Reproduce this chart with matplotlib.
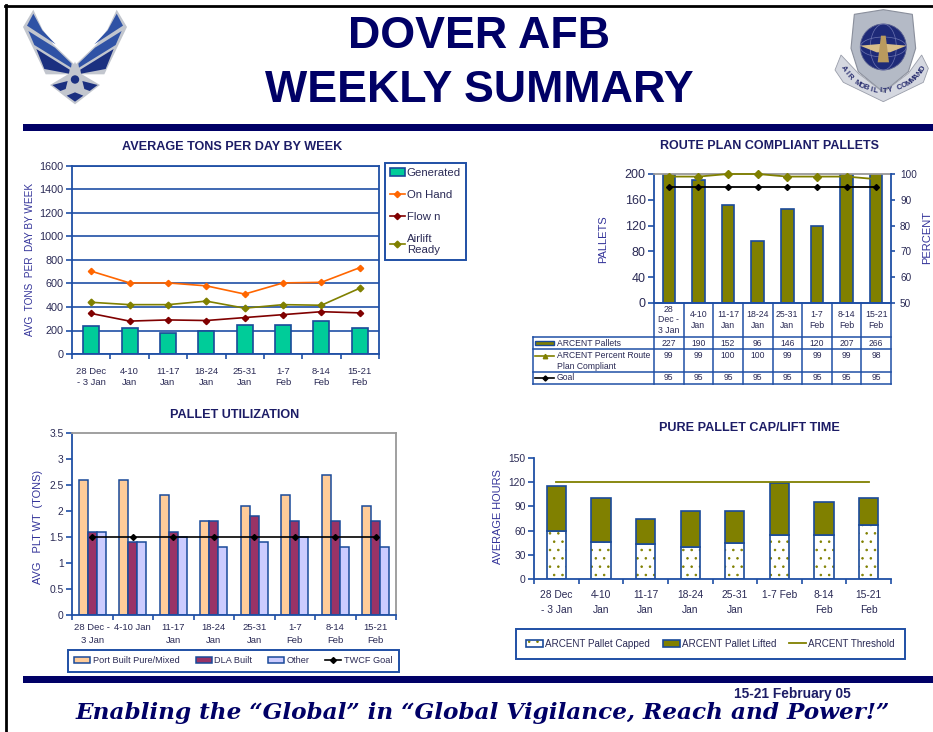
import math
import matplotlib
matplotlib.use("Agg")
import matplotlib.pyplot as plt
from matplotlib.patches import Patch, Polygon, Circle, Ellipse, Rectangle
from matplotlib.legend_handler import HandlerTuple

W, H = 933, 732
plt.rcParams['font.family'] = ['Liberation Sans', 'DejaVu Sans']
plt.rcParams['hatch.linewidth'] = 0.6

# ---- data ----
cats_tons = ['28 Dec\n- 3 Jan', '4-10\nJan', '11-17\nJan', '18-24\nJan', '25-31\nJan', '1-7\nFeb', '8-14\nFeb', '15-21\nFeb']
generated = [240, 225, 180, 200, 250, 250, 285, 225]
on_hand = [705, 605, 605, 580, 510, 605, 610, 735]
flown = [345, 280, 290, 285, 310, 335, 360, 350]
airlift_ready = [440, 420, 420, 450, 390, 420, 415, 560]

cats_route = ['28\nDec -\n3 Jan', '4-10\nJan', '11-17\nJan', '18-24\nJan', '25-31\nJan', '1-7\nFeb', '8-14\nFeb', '15-21\nFeb']
arcent_pallets = [227, 190, 152, 96, 146, 120, 207, 266]
percent_compliant = [99, 99, 100, 100, 99, 99, 99, 98]
route_goal = [95, 95, 95, 95, 95, 95, 95, 95]

cats_util = ['28 Dec -\n3 Jan', '4-10 Jan', '11-17\nJan', '18-24\nJan', '25-31\nJan', '1-7\nFeb', '8-14\nFeb', '15-21\nFeb']
port_built = [2.6, 2.6, 2.3, 1.8, 2.1, 2.3, 2.7, 2.1]
dla_built = [1.6, 1.4, 1.6, 1.8, 1.9, 1.8, 1.8, 1.8]
other_built = [1.6, 1.4, 1.5, 1.3, 1.4, 1.5, 1.3, 1.3]
twcf_goal = [1.5, 1.5, 1.5, 1.5, 1.5, 1.5, 1.5, 1.5]

cats_cap = ['28 Dec\n- 3 Jan', '4-10\nJan', '11-17\nJan', '18-24\nJan', '25-31\nJan', '1-7 Feb', '8-14\nFeb', '15-21\nFeb']
pallet_capped = [60, 46, 43, 40, 45, 55, 55, 67]
pallet_lifted = [55, 55, 32, 44, 39, 64, 40, 34]
arcent_threshold = [120, 120, 120, 120, 120, 120, 120, 120]

# ---- style ----
BLUE = '#1F4FA5'
EDGE = '#1A4A9A'
NAVY = '#000066'
TITLE = '#1C1C66'
TXT = '#2A2A55'
LAB = '#333399'
OLIVE = '#808000'
idx = list(range(8))

fig = plt.figure(figsize=(W / 100, H / 100), dpi=100, facecolor='white')


def make_axes(left, right, top, bottom):
    return fig.add_axes([left / W, 1 - bottom / H, (right - left) / W, (bottom - top) / H])


def style_axes(ax, ymax, yticks, ylabels, xlabels, ysize=7.4, xsize=6.8, xpad=5, xspace=1.45):
    ax.set_xlim(-0.5, 7.5)
    ax.set_ylim(0, ymax)
    ax.set_yticks(yticks, ylabels, fontsize=ysize, color=TXT)
    ax.set_xticks(idx, xlabels, fontsize=xsize, color=TXT, linespacing=xspace)
    ax.set_xticks([i - 0.5 for i in range(9)], minor=True)
    ax.tick_params(axis='x', which='major', length=0, pad=xpad)
    ax.tick_params(axis='x', which='minor', length=3.5, color=BLUE, width=1.2)
    ax.tick_params(axis='y', length=4, color=BLUE, width=1.2, pad=2)
    for s in ax.spines.values():
        s.set_color(BLUE)
        s.set_linewidth(1.3)


def add_legend(handles, labels, x, y, **kw):
    leg = fig.legend(handles, labels, loc='upper left', bbox_to_anchor=(x / W, 1 - y / H),
                     bbox_transform=fig.transFigure, borderaxespad=0, fancybox=False,
                     framealpha=1, edgecolor=BLUE, labelcolor=TXT, **kw)
    leg.get_frame().set_linewidth(1.4)
    return leg


# ---- chart 1 ----
ax1 = make_axes(72, 379, 166, 354)
style_axes(ax1, 1600, range(0, 1601, 200), [str(v) for v in range(0, 1601, 200)], cats_tons, ysize=7.8, xpad=9, xspace=1.3)
ax1.grid(axis='y', color=BLUE, lw=1.2)
ax1.set_axisbelow(True)
ax1.bar(idx, generated, width=0.42, color='#00CC99', edgecolor=EDGE, lw=1.2, zorder=2)
l_hand, = ax1.plot(idx, on_hand, color='#FF6600', marker='D', ms=3.2, lw=1.2, zorder=3)
l_flown, = ax1.plot(idx, flown, color='#800000', marker='D', ms=3.2, lw=1.2, zorder=3)
l_ready, = ax1.plot(idx, airlift_ready, color=OLIVE, marker='D', ms=3.4, lw=1.2, zorder=3)
add_legend([Patch(facecolor='#00CC99', edgecolor=EDGE, lw=1.2), l_hand, l_flown, l_ready],
           ['Generated', 'On Hand', 'Flow n', 'Airlift\nReady'], 385, 163,
           fontsize=8.2, labelspacing=1.05, handlelength=1.3, handletextpad=0.2,
           borderpad=0.42)

# ---- chart 2 ----
ax2 = make_axes(654, 891, 174, 303)
style_axes(ax2, 200, range(0, 201, 40), [str(v) for v in range(0, 201, 40)], [''] * 8, ysize=9)
ax2.spines['top'].set_color('#999999')
ax2.spines['right'].set_visible(False)
ax2.tick_params(axis='x', which='minor', length=0)
ax2.bar(idx, arcent_pallets, width=0.42, color=OLIVE, edgecolor=EDGE, lw=1.2)
ax2b = ax2.twinx()
ax2b.set_xlim(-0.5, 7.5)
ax2b.set_ylim(50, 100)
ax2b.set_yticks(range(50, 101, 10), [str(v) for v in range(50, 101, 10)], fontsize=7.2, color=TXT)
ax2b.tick_params(axis='y', length=3, color=BLUE, width=1.2, pad=3.5)
for name, s in ax2b.spines.items():
    s.set_visible(name == 'right')
    s.set_color(BLUE)
    s.set_linewidth(1.3)
ax2b.plot(idx, percent_compliant, color=OLIVE, marker='D', ms=4, lw=1.3, clip_on=False)
ax2b.plot(idx, route_goal, color='black', marker='D', ms=3, lw=1.3)

# ---- chart 3 ----
ax3 = make_axes(72, 396, 433, 615)
yt3 = [0, 0.5, 1, 1.5, 2, 2.5, 3, 3.5]
style_axes(ax3, 3.5, yt3, ['0', '0.5', '1', '1.5', '2', '2.5', '3', '3.5'], cats_util, ysize=7.4, xsize=6.8, xpad=6, xspace=1.5)
ax3.spines['top'].set_color('#999999')
ax3.spines['right'].set_color('#999999')
bw = 0.222
ax3.bar([i - bw for i in idx], port_built, width=bw, color='#FFCC99', edgecolor=EDGE, lw=1.1)
ax3.bar(idx, dla_built, width=bw, color='#993366', edgecolor=EDGE, lw=1.1)
ax3.bar([i + bw for i in idx], other_built, width=bw, color='#CCCCFF', edgecolor=EDGE, lw=1.1)
l_goal, = ax3.plot(idx, twcf_goal, color='black', marker='D', ms=3, lw=1.2, zorder=4)
add_legend([Patch(facecolor='#FFCC99', edgecolor=EDGE, lw=1.1), Patch(facecolor='#993366', edgecolor=EDGE, lw=1.1),
            Patch(facecolor='#CCCCFF', edgecolor=EDGE, lw=1.1), l_goal],
           ['Port Built Pure/Mixed', 'DLA Built', 'Other', 'TWCF Goal'], 68, 650,
           fontsize=6.6, ncols=4, columnspacing=1.75, handlelength=1.75, handletextpad=0.25,
           borderpad=0.7)

# ---- chart 4 ----
ax4 = make_axes(534, 891, 458, 579)
style_axes(ax4, 150, range(0, 151, 30), [str(v) for v in range(0, 151, 30)], cats_cap, ysize=7.4, xsize=7.4, xpad=8, xspace=1.6)
ax4.spines['top'].set_visible(False)
ax4.spines['right'].set_visible(False)
ax4.bar(idx, pallet_capped, width=0.43, color='white', edgecolor=OLIVE, hatch='..', lw=0)
ax4.bar(idx, pallet_capped, width=0.43, fill=False, edgecolor=EDGE, lw=1.2)
ax4.bar(idx, pallet_lifted, bottom=pallet_capped, width=0.43, color=OLIVE, edgecolor=EDGE, lw=1.2)
l_thr, = ax4.plot(idx, arcent_threshold, color=OLIVE, lw=1.3)
cap_handle = (Patch(facecolor='white', edgecolor=OLIVE, hatch='..', lw=0), Patch(fill=False, edgecolor=EDGE, lw=1.2))
add_legend([cap_handle, Patch(facecolor=OLIVE, edgecolor=EDGE, lw=1.2), l_thr],
           ['ARCENT Pallet Capped', 'ARCENT Pallet Lifted', 'ARCENT Threshold'], 516, 629,
           fontsize=7.1, ncols=3, columnspacing=1.35, handlelength=1.7, handletextpad=0.2,
           borderpad=1.0, handler_map={tuple: HandlerTuple(ndivide=1, pad=0)})

# ---- page furniture, drawn in pixel coordinates ----
ov = fig.add_axes([0, 0, 1, 1], zorder=5)
ov.set_xlim(0, W)
ov.set_ylim(H, 0)
ov.axis('off')
ov.patch.set_alpha(0)

ov.plot([6, 6], [5, H], color='black', lw=2)
ov.plot([5, W], [6, 6], color='black', lw=2)
ov.add_patch(Rectangle((23, 124), W - 23, 7, color=NAVY, lw=0))
ov.add_patch(Rectangle((23, 676), W - 23, 7, color=NAVY, lw=0))

ov.text(479, 48, 'DOVER AFB', ha='center', va='baseline', fontsize=32.2, fontweight='bold', color=NAVY)
ov.text(479, 102, 'WEEKLY SUMMARY', ha='center', va='baseline', fontsize=32.2, fontweight='bold', color=NAVY)

ov.text(232, 147.5, 'AVERAGE TONS PER DAY BY WEEK', ha='center', va='center', fontsize=9.05, fontweight='bold', color=TITLE)
ov.text(770, 146, 'ROUTE PLAN COMPLIANT PALLETS', ha='center', va='center', fontsize=9.0, fontweight='bold', color=TITLE)
ov.text(235, 415, 'PALLET UTILIZATION', ha='center', va='center', fontsize=9.05, fontweight='bold', color=TITLE)
ov.text(749, 428, 'PURE PALLET CAP/LIFT TIME', ha='center', va='center', fontsize=9.05, fontweight='bold', color=TITLE)

ov.text(30, 259, 'AVG  TONS  PER  DAY BY WEEK', rotation=90, ha='center', va='center', fontsize=7.2, color=LAB)
ov.text(603, 239, 'PALLETS', rotation=90, ha='center', va='center', fontsize=8, color=LAB)
ov.text(927, 237, 'PERCENT', rotation=90, ha='center', va='center', fontsize=8, color=LAB)
ov.text(38, 527, 'AVG   PLT WT  (TONS)', rotation=90, ha='center', va='center', fontsize=7.9, color=LAB)
ov.text(498, 517, 'AVERAGE HOURS', rotation=90, ha='center', va='center', fontsize=7.9, color=LAB)

ov.text(792, 694, '15-21 February 05', ha='center', va='center', fontsize=9.9, fontweight='bold', color=TITLE)
ov.text(483, 713, 'Enabling the \u201cGlobal\u201d in \u201cGlobal Vigilance, Reach and Power!\u201d', ha='center', va='center',
        fontsize=16.7, fontweight='bold', fontstyle='italic', family='DejaVu Serif', color=NAVY)

# ---- data table under chart 2 ----
cw = (891 - 654) / 8
rows_y = [303, 337, 349, 372, 384]
for i in range(9):
    ov.plot([654 + i * cw] * 2, [303, 384], color=BLUE, lw=1.1)
ov.plot([533, 533], [337, 384], color=BLUE, lw=1.1)
for k, y in enumerate(rows_y):
    ov.plot([533 if k else 654, 891], [y, y], color=BLUE, lw=1.1)

for i in idx:
    xc = 654 + (i + 0.5) * cw
    ov.text(xc, 320, cats_route[i], ha='center', va='center', fontsize=6.3, color=TXT, linespacing=1.25)
    ov.text(xc, 343, str(arcent_pallets[i]), ha='center', va='center', fontsize=6.2, color=TXT)
    ov.text(xc, 356, str(percent_compliant[i]), ha='center', va='center', fontsize=6.2, color=TXT)
    ov.text(xc, 378, str(route_goal[i]), ha='center', va='center', fontsize=6.2, color=TXT)
ov.text(557, 343, 'ARCENT Pallets', ha='left', va='center', fontsize=6.2, color=TXT)
ov.text(557, 361, 'ARCENT Percent Route\nPlan Compliant', ha='left', va='center', fontsize=6.2, color=TXT, linespacing=1.3)
ov.text(557, 378, 'Goal', ha='left', va='center', fontsize=6.2, color=TXT)
ov.add_patch(Rectangle((535, 341), 19, 4, facecolor=OLIVE, edgecolor=EDGE, lw=1))
ov.plot([535, 554], [356, 356], color=OLIVE, lw=1.2)
ov.plot([544.5], [356], color=OLIVE, marker='^', ms=3.2)
ov.plot([535, 554], [378, 378], color='black', lw=1.2)
ov.plot([544.5], [378], color='black', marker='D', ms=2.6)


# ---- insignia ----
def wing_px(pts, mirror=False):
    out = []
    for zx, zy in pts:
        if mirror:
            zx = 360 - zx
        out.append((15 + zx / 3, 5 + zy / 3))
    return out


silver = '#C2C6CE'
wing_blue = '#2F52A5'
dark_blue = '#1B3080'
for m in (False, True):
    ov.add_patch(Polygon(wing_px([(55, 14), (24, 66), (92, 208), (175, 208), (180, 180), (115, 118), (82, 72)], m),
                         facecolor=silver, edgecolor='none'))
    ov.add_patch(Polygon(wing_px([(55, 26), (36, 62), (122, 118), (82, 76)], m), facecolor=wing_blue, edgecolor='none'))
    ov.add_patch(Polygon(wing_px([(40, 78), (58, 120), (168, 188), (170, 176), (120, 128)], m), facecolor=wing_blue, edgecolor='none'))
    ov.add_patch(Polygon(wing_px([(64, 132), (88, 192), (162, 206), (164, 194)], m), facecolor=dark_blue, edgecolor='none'))
ov.add_patch(Polygon(wing_px([(180, 170), (196, 205), (255, 240), (180, 298), (105, 240), (164, 205)]),
                     facecolor=silver, edgecolor='none'))
ov.add_patch(Polygon(wing_px([(112, 240), (158, 228), (152, 252), (136, 258)]), facecolor=dark_blue, edgecolor='none'))
ov.add_patch(Polygon(wing_px([(248, 240), (202, 228), (208, 252), (224, 258)]), facecolor=dark_blue, edgecolor='none'))
ov.add_patch(Polygon(wing_px([(180, 262), (155, 272), (180, 290), (205, 272)]), facecolor=dark_blue, edgecolor='none'))
ov.add_patch(Circle((75, 79.5), 4.2, facecolor=dark_blue, edgecolor='none'))


def amc_px(pts):
    return [(825 + zx / 3, 5 + zy / 3) for zx, zy in pts]


ov.add_patch(Polygon(amc_px([(88, 28), (175, 14), (262, 28), (272, 130), (250, 200), (175, 262), (100, 200), (78, 130)]),
                     facecolor='#B4BAC6', edgecolor='#8A8F9C', lw=0.8))
ov.add_patch(Polygon(amc_px([(48, 150), (30, 195), (55, 232), (175, 290), (295, 232), (310, 190), (290, 150), (250, 205), (175, 262), (100, 205)]),
                     facecolor='#D5D8E0', edgecolor='#9A9EAA', lw=0.6))
ov.add_patch(Circle((883.3, 47), 23, facecolor='#1E2A78', edgecolor='#59608F', lw=0.6))
ov.add_patch(Ellipse((883.3, 47), 26, 46, fill=False, edgecolor='#6C74B0', lw=0.5))
ov.add_patch(Ellipse((883.3, 47), 46, 20, fill=False, edgecolor='#6C74B0', lw=0.5))
ov.add_patch(Polygon(amc_px([(105, 122), (175, 116), (245, 122), (195, 142), (155, 142)]), facecolor='#D8BE8A', edgecolor='none'))
ov.add_patch(Polygon(amc_px([(168, 92), (182, 92), (192, 172), (158, 172)]), facecolor='#B99A5E', edgecolor='none'))

motto = 'AIR MOBILITY COMMAND'
for n, ch in enumerate(motto):
    t = math.radians(-58 + 116 * n / (len(motto) - 1))
    ov.text(883 + 47 * math.sin(t), 44 + 47 * math.cos(t), ch, rotation=math.degrees(t),
            rotation_mode='anchor', ha='center', va='center', fontsize=5.6, fontweight='bold', color='#2A2F70')

fig.savefig('out.png', dpi=100, facecolor='white')
